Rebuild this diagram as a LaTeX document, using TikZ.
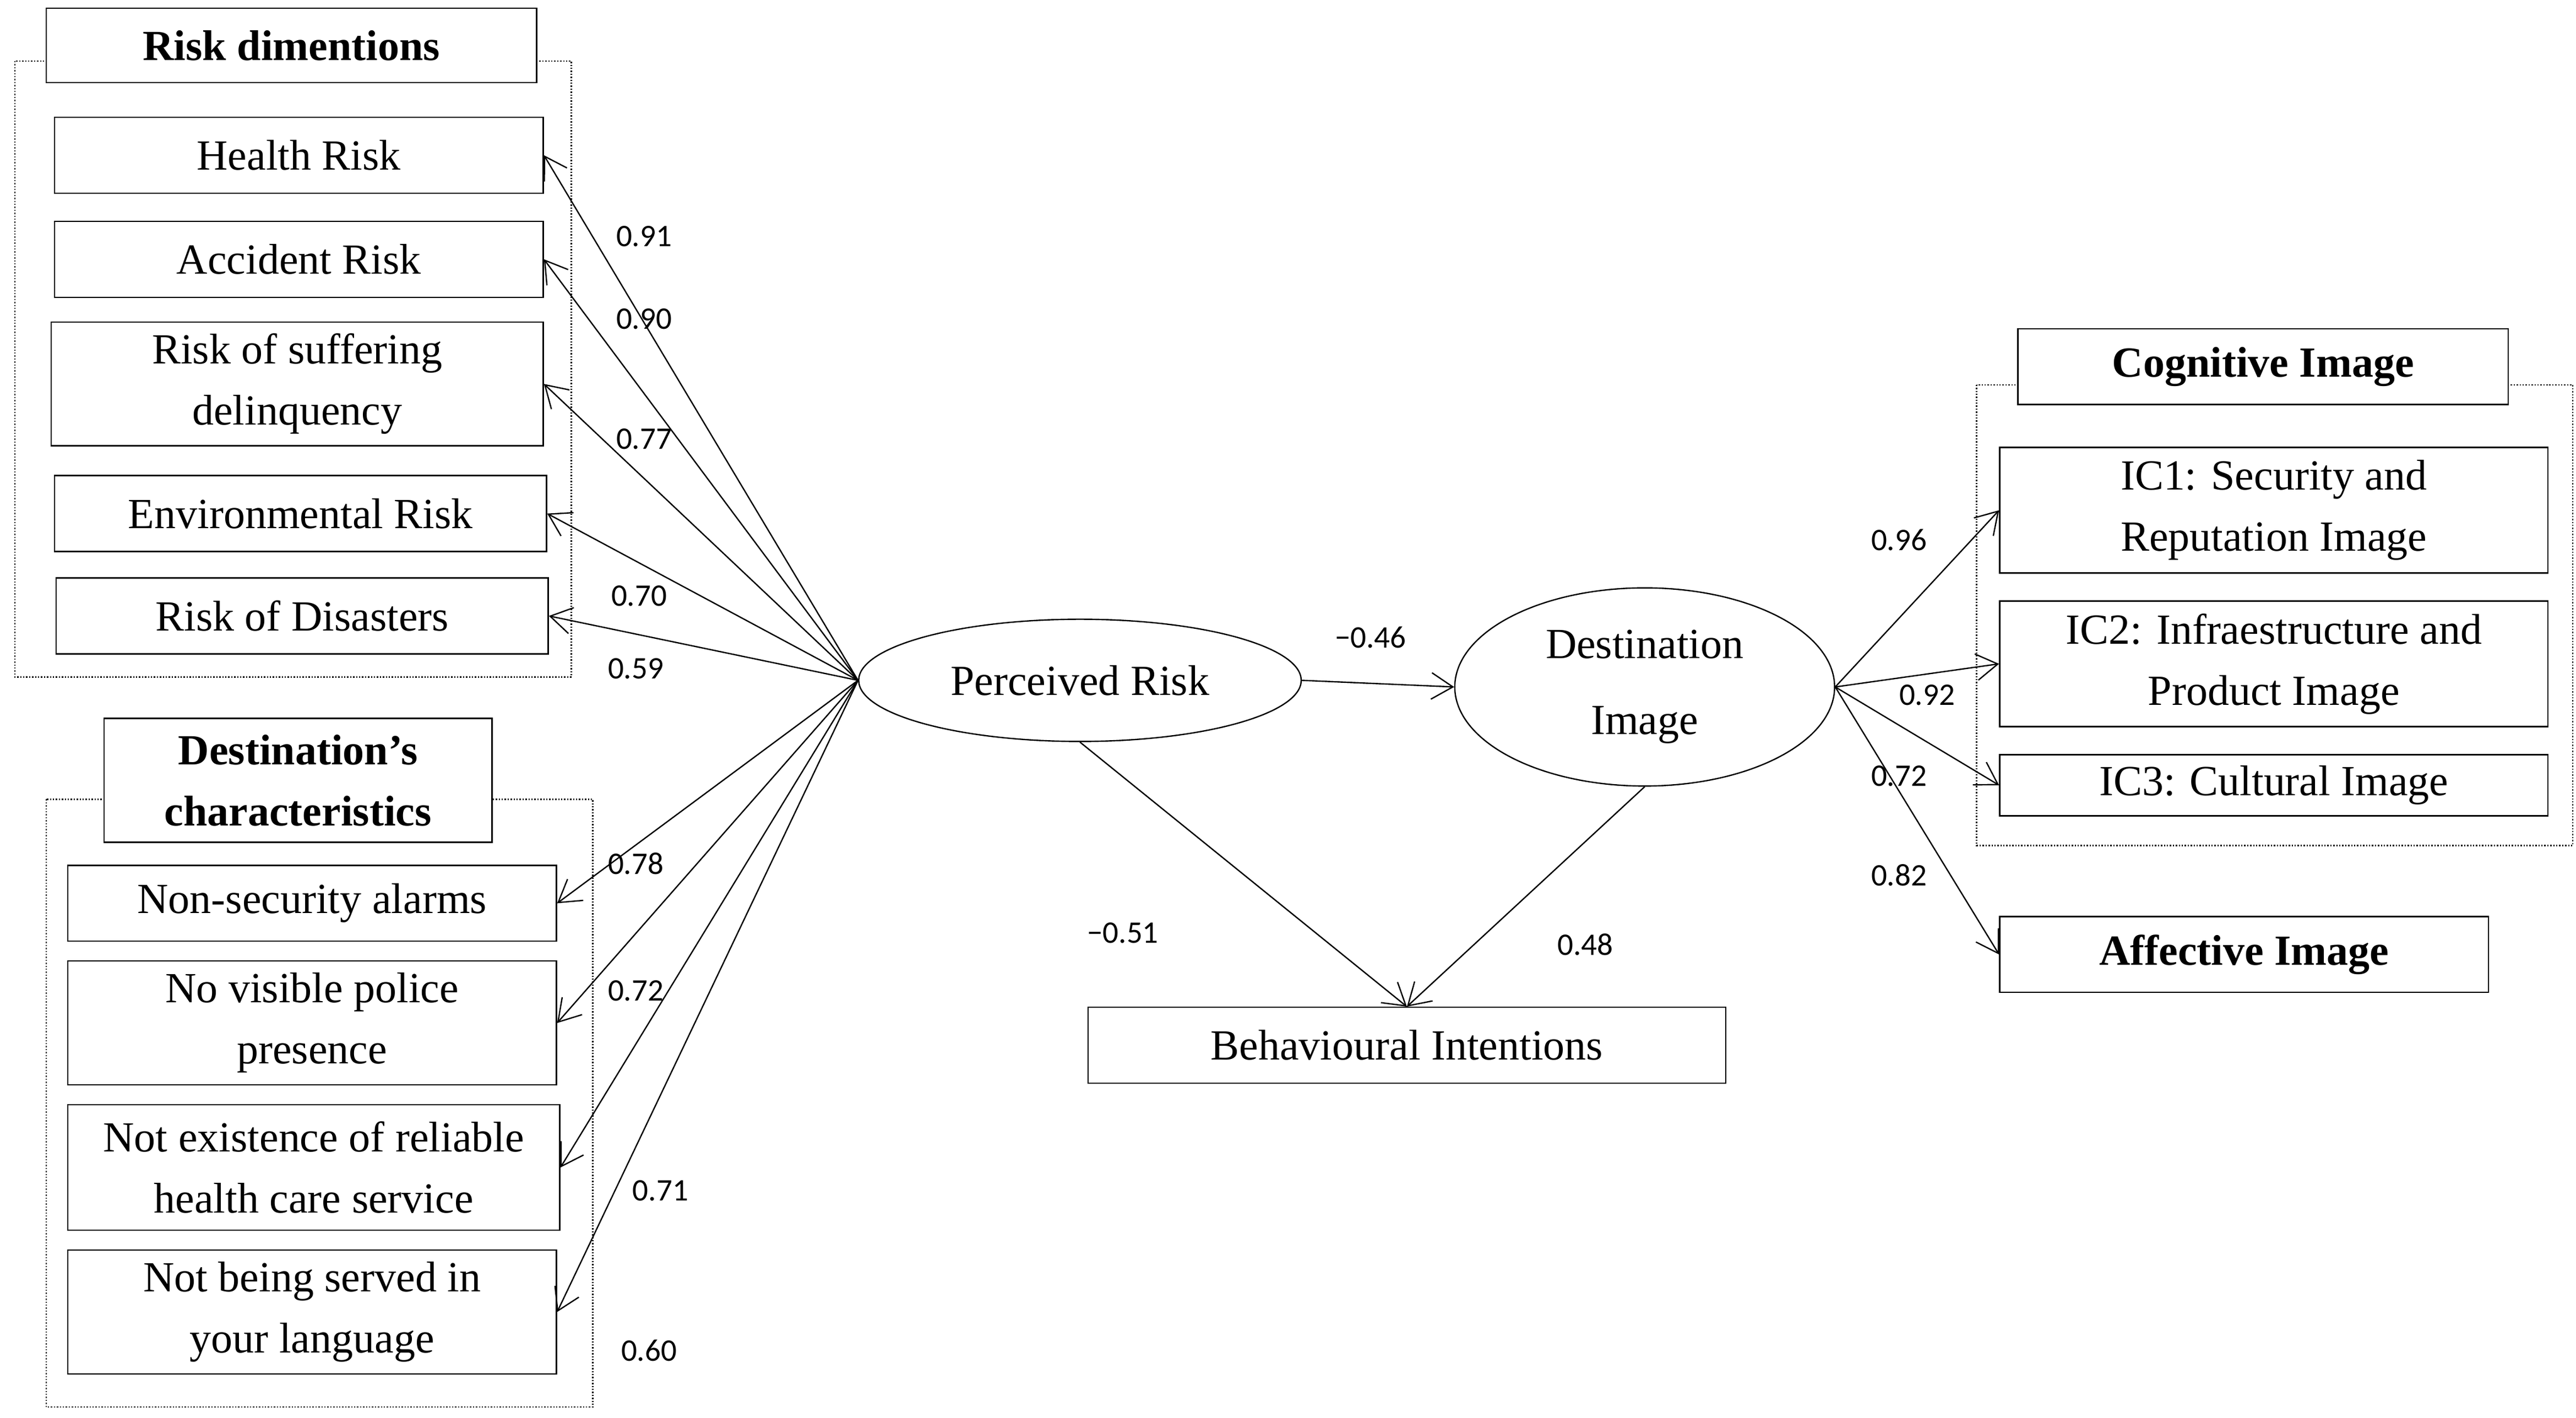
\documentclass[tikz,border=0pt]{standalone}
\usepackage{fontspec}
\setmainfont{Liberation Serif}
\newfontfamily\numf{Carlito}
\usetikzlibrary{arrows.meta,shapes.geometric}
\begin{document}
\begin{tikzpicture}[x=1pt,y=-1pt,
  bx/.style={draw,line width=0.8pt,inner sep=0pt,align=center,font=\fontsize{26}{37}\selectfont},
  tt/.style={bx,font=\fontsize{26}{37}\selectfont\bfseries,fill=white},
  grp/.style={draw,densely dotted,line width=0.8pt},
  el/.style={draw,ellipse,line width=0.8pt,inner sep=0pt,align=center,font=\fontsize{26}{46}\selectfont},
  ar/.style={-{Straight Barb[length=13pt,width=16pt]},line width=0.8pt},
  lb/.style={font=\numf\fontsize{19}{22}\selectfont}]
\useasboundingbox (0,0) rectangle (1560,858.7);
% groups
\draw[grp] (9,37) rectangle (346,410);
\draw[grp] (28,484) rectangle (359,852);
\draw[grp] (1197,233) rectangle (1558,512);
% titles
\node[tt,minimum width=297,minimum height=45] (t1) at (176.5,27.5) {Risk dimentions};
\node[tt,minimum width=235,minimum height=75] (t2) at (180.5,472.5) {Destination’s\\characteristics};
\node[tt,minimum width=297,minimum height=46] (t3) at (1370.5,222) {Cognitive Image};
% left boxes
\node[bx,minimum width=296,minimum height=46] (hr) at (181,94) {Health Risk};
\node[bx,minimum width=296,minimum height=46] (acr) at (181,157) {Accident Risk};
\node[bx,minimum width=298,minimum height=75] (rsd) at (180,232.5) {Risk of suffering\\delinquency};
\node[bx,minimum width=298,minimum height=46] (er) at (182,311) {Environmental Risk};
\node[bx,minimum width=298,minimum height=46] (rd) at (183,373) {Risk of Disasters};
\node[bx,minimum width=296,minimum height=46] (nsa) at (189,547) {Non-security alarms};
\node[bx,minimum width=296,minimum height=75] (nvp) at (189,619.5) {No visible police\\presence};
\node[bx,minimum width=298,minimum height=76] (ner) at (190,707) {Not existence of reliable\\health care service};
\node[bx,minimum width=296,minimum height=75] (nbs) at (189,794.5) {Not being served in\\your language};
% center
\node[el,minimum width=268,minimum height=74] (pr) at (654,412) {Perceived Risk};
\node[el,minimum width=230,minimum height=120] (di) at (996,416) {Destination\\Image};
\node[bx,minimum width=386,minimum height=46] (bi) at (852,633) {Behavioural Intentions};
% right
\node[bx,minimum width=332,minimum height=76] (ic1) at (1377,309) {IC1: Security and\\Reputation Image};
\node[bx,minimum width=332,minimum height=76] (ic2) at (1377,402) {IC2: Infraestructure and\\Product Image};
\node[bx,minimum width=332,minimum height=37] (ic3) at (1377,475.5) {IC3: Cultural Image};
\node[bx,minimum width=296,minimum height=46,font=\fontsize{26}{37}\selectfont\bfseries] (ai) at (1359,578) {Affective Image};
% arrows
\foreach \t in {hr,acr,rsd,er,rd,nsa,nvp,ner,nbs} \draw[ar] (pr.west) -- (\t.east);
\draw[ar] (pr.east) -- (di.west);
\draw[ar] (pr.south) -- (bi.north);
\draw[ar] (di.south) -- (bi.north);
\foreach \t in {ic1,ic2,ic3,ai} \draw[ar] (di.east) -- (\t.west);
% labels
\node[lb] (l1) at (390,143) {0.91};
\node[lb] (l2) at (390,193) {0.90};
\node[lb] (l3) at (390,266) {0.77};
\node[lb] (l4) at (387,361) {0.70};
\node[lb] (l5) at (385,405) {0.59};
\node[lb] (l6) at (385,523) {0.78};
\node[lb] (l7) at (385,600) {0.72};
\node[lb] (l8) at (400,721) {0.71};
\node[lb] (l9) at (393,818) {0.60};
\node[lb] (l10) at (830,386) {−0.46};
\node[lb] (l11) at (680,565) {−0.51};
\node[lb] (l12) at (960,572) {0.48};
\node[lb] (l13) at (1150,327) {0.96};
\node[lb] (l14) at (1167,421) {0.92};
\node[lb] (l15) at (1150,470) {0.72};
\node[lb] (l16) at (1150,530) {0.82};
\end{tikzpicture}
\end{document}
